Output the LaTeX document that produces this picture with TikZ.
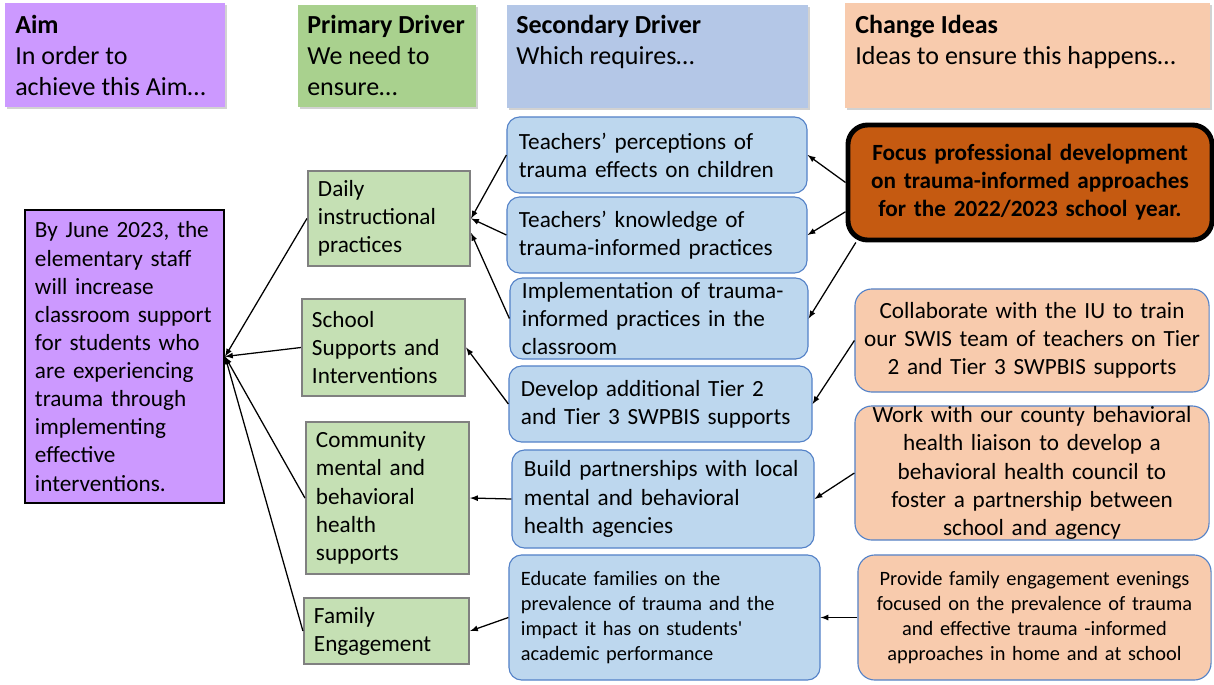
\documentclass[tikz,border=0pt]{standalone}
\usepackage{fontspec}
\setmainfont{Carlito}
\usetikzlibrary{shadows}

\definecolor{aimpurple}{RGB}{204,153,255}
\definecolor{drivegreen}{RGB}{169,209,142}
\definecolor{boxgreen}{RGB}{197,224,180}
\definecolor{headblue}{RGB}{180,199,231}
\definecolor{boxblue}{RGB}{189,215,238}
\definecolor{edgeblue}{RGB}{84,130,200}
\definecolor{headpeach}{RGB}{248,203,173}
\definecolor{burnt}{RGB}{197,90,17}

\newcommand{\hdfont}{\fontsize{18.5}{22.2}\selectfont}
\newcommand{\bodyfont}{\fontsize{16.5}{20}\selectfont}
\newcommand{\smallbody}{\fontsize{14.5}{17.8}\selectfont}

\begin{document}
\begin{tikzpicture}[>=latex, x=0.025cm, y=-0.025cm,
  headbox/.style={draw=none, drop shadow={shadow xshift=1.5pt, shadow yshift=-1.5pt, opacity=.35}},
  headtext/.style={anchor=north west, align=left, inner sep=0pt, font=\hdfont},
  aimbox/.style={draw=black, line width=1.5pt, fill=aimpurple, align=left, font=\bodyfont, inner xsep=.25cm, inner ysep=0pt},
  primary/.style={draw=gray, line width=1.5pt, fill=boxgreen, align=left, font=\bodyfont, inner xsep=.25cm, inner ysep=0pt},
  secondary/.style={draw=edgeblue, line width=.8pt, fill=boxblue, rounded corners=9pt, align=left, font=\bodyfont, inner xsep=.3cm, inner ysep=0pt},
  idea/.style={draw=edgeblue, line width=.8pt, fill=headpeach, rounded corners=12pt, align=center, font=\bodyfont, inner xsep=.2cm, inner ysep=0pt},
  focus/.style={draw=black, line width=3.5pt, fill=burnt, rounded corners=14pt, align=center, font=\bodyfont\bfseries, inner xsep=.3cm, inner ysep=0pt},
  link/.style={->, line width=.9pt}]
\path[use as bounding box, fill=white] (0,0) rectangle (1214,684);

%column heads
\node[headbox, fill=aimpurple, minimum width=5.5cm, minimum height=2.6cm] (aimhead) at (115,55) {};
\node[headtext] (aimheadtext) at (15,15) {\textbf{Aim}\\In order to\\achieve this Aim…};
\node[headbox, fill=drivegreen, minimum width=4.45cm, minimum height=2.55cm] (primhead) at (387,56) {};
\node[headtext] (primheadtext) at (307,15) {\textbf{Primary Driver}\\We need to\\ensure…};
\node[headbox, fill=headblue, minimum width=7.525cm, minimum height=2.575cm] (sechead) at (657.5,56.5) {};
\node[headtext] (secheadtext) at (516,15) {\textbf{Secondary Driver}\\Which requires…};
\node[headbox, fill=headpeach, minimum width=9.125cm, minimum height=2.625cm] (ideahead) at (1027.5,55.5) {};
\node[headtext] (ideaheadtext) at (855,15) {\textbf{Change Ideas}\\Ideas to ensure this happens…};

%aim
\node[aimbox, text width=4.475cm, minimum height=7.325cm] (aim) at (124.5,356.5)
  {By June 2023, the\\elementary staff\\will increase\\classroom support\\for students who\\are experiencing\\trauma through\\implementing\\effective\\interventions.};

%primary drivers
\node[primary, text width=3.55cm, minimum height=2.375cm] (daily) at (389,218.5)
  {Daily\\instructional\\practices};
\node[primary, text width=3.575cm, minimum height=2.425cm] (school) at (383.5,347.5)
  {School\\Supports and\\Interventions};
\node[primary, text width=3.575cm, minimum height=3.8cm] (community) at (387.5,498)
  {Community\\mental and\\behavioral\\health\\supports};
\node[primary, text width=3.625cm, minimum height=1.65cm] (family) at (386.5,631)
  {Family\\Engagement};

%secondary drivers
\node[secondary, text width=6.9cm, minimum height=1.9cm] (perceive) at (657,155)
  {Teachers’ perceptions of\\trauma effects on children};
\node[secondary, text width=6.9cm, minimum height=1.9cm] (knowledge) at (657,235)
  {Teachers’ knowledge of\\trauma-informed practices};
\node[secondary, text width=6.85cm, minimum height=2.025cm] (implement) at (659,318.5)
  {Implementation of trauma-\\informed practices in the\\classroom};
\node[secondary, text width=6.975cm, minimum height=1.9cm] (tiers) at (660.5,404)
  {Develop additional Tier 2\\and Tier 3 SWPBIS supports};
\node[secondary, text width=6.95cm, minimum height=2.45cm] (partner) at (663,499)
  {Build partnerships with local\\mental and behavioral\\health agencies};
\node[secondary, text width=7.175cm, minimum height=3.125cm, font=\smallbody] (educate) at (664.5,617.5)
  {Educate families on the\\prevalence of trauma and the\\impact it has on students\textquotesingle\\academic performance};

%change ideas
\node[focus, text width=8.5cm, minimum height=2.875cm] (focus) at (1030,182.5)
  {Focus professional development\\on trauma-informed approaches\\for the 2022/2023 school year.};
\node[idea, text width=8.45cm, minimum height=2.575cm] (train) at (1032,340.5)
  {Collaborate with the IU to train\\our SWIS team of teachers on Tier\\2 and Tier 3 SWPBIS supports};
\node[idea, text width=8.45cm, minimum height=3.35cm] (council) at (1032,473)
  {Work with our county behavioral\\health liaison to develop a\\behavioral health council to\\foster a partnership between\\school and agency};
\node[idea, text width=8.425cm, minimum height=3.125cm, font=\smallbody] (evenings) at (1034.5,617.5)
  {Provide family engagement evenings\\focused on the prevalence of trauma\\and effective trauma -informed\\approaches in home and at school};

%drivers to aim
\draw[link] (daily.west) -- (aim.east);
\draw[link] (school.west) -- (aim.east);
\draw[link] (community.west) -- (aim.east);
\draw[link] (family.west) -- (aim.east);
%secondary to primary
\draw[link] (perceive.west) -- (daily.east);
\draw[link] (knowledge.west) -- (daily.east);
\draw[link] (implement.west) -- (daily.-10);
\draw[link] (tiers.west) -- (school.east);
\draw[link] (partner.west) -- (community.east);
\draw[link] (educate.west) -- (family.east);
%ideas to secondary
\draw[link] (focus.west) -- (perceive.east);
\draw[link] (focus.189) -- (knowledge.east);
\draw[link] (focus.199) -- (implement.east);
\draw[link] (train.west) -- (tiers.east);
\draw[link] (council.west) -- (partner.east);
\draw[link] (evenings.west) -- (educate.east);
\end{tikzpicture}
\end{document}
